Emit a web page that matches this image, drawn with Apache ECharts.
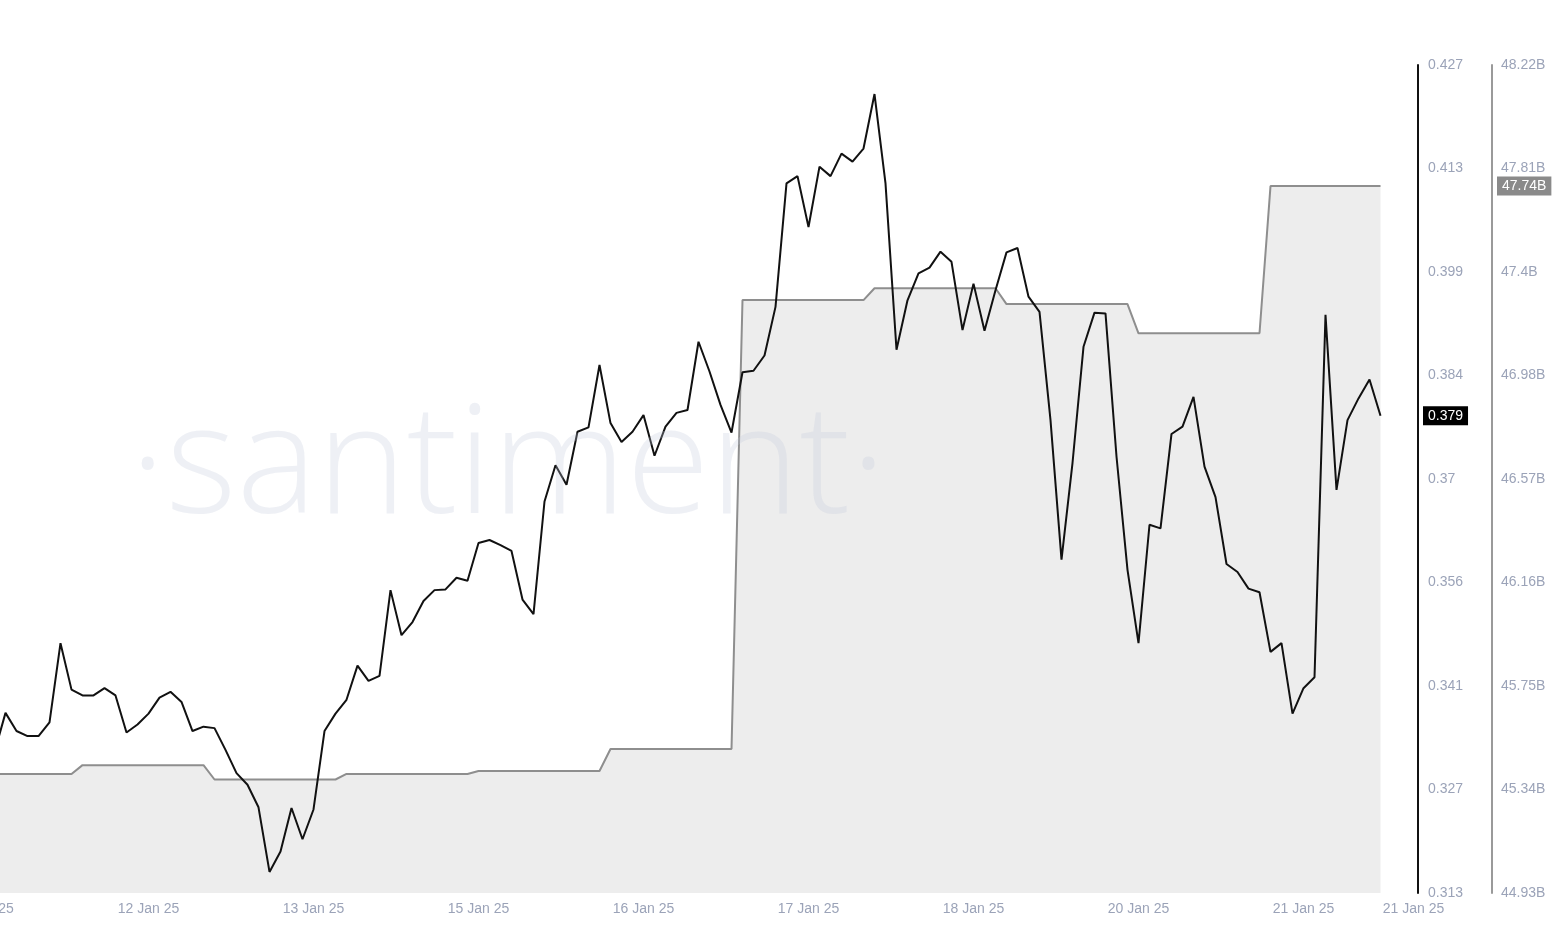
<!DOCTYPE html>
<html>
<head>
<meta charset="utf-8">
<script src="https://cdn.jsdelivr.net/npm/echarts@6/dist/echarts.min.js"></script>
<style>
html,body{margin:0;padding:0;background:#fff;}
#chart{width:1560px;height:926px;}
</style>
</head>
<body>
<div id="chart"></div>
<script>
// X-axis tick labels (category index -> label)
const xTickIndex = [0, 15, 30, 45, 60, 75, 90, 105, 120, 130];
const xTickLabels = ['11 Jan 25', '12 Jan 25', '13 Jan 25', '15 Jan 25', '16 Jan 25', '17 Jan 25', '18 Jan 25', '20 Jan 25', '21 Jan 25', '21 Jan 25'];
const categoryCount = 131;

// Price (left value axis)
const price = [null,
  0.3324, 0.3378, 0.3353, 0.3346, 0.3346, 0.3365, 0.3474, 0.3410, 0.3402, 0.3402, 0.3412,
  0.3402, 0.3351, 0.3362, 0.3377, 0.3399, 0.3407, 0.3393, 0.3353, 0.3359, 0.3357,
  0.3327, 0.3295, 0.3279, 0.3248, 0.3159, 0.3187, 0.3247, 0.3204, 0.3245, 0.3353,
  0.3377, 0.3396, 0.3443, 0.3422, 0.3429, 0.3547, 0.3485, 0.3503, 0.3532, 0.3547,
  0.3548, 0.3564, 0.3560, 0.3612, 0.3616, 0.3609, 0.3601, 0.3534, 0.3514, 0.3669,
  0.3719, 0.3692, 0.3765, 0.3771, 0.3857, 0.3777, 0.3751, 0.3765, 0.3788, 0.3732,
  0.3772, 0.3791, 0.3795, 0.3889, 0.3848, 0.3802, 0.3764, 0.3847, 0.3849, 0.3870,
  0.3937, 0.4107, 0.4117, 0.4047, 0.4130, 0.4117, 0.4148, 0.4137, 0.4155, 0.4230,
  0.4107, 0.3878, 0.3946, 0.3983, 0.3991, 0.4013, 0.3999, 0.3905, 0.3969, 0.3904,
  0.3960, 0.4012, 0.4018, 0.3951, 0.3930, 0.3781, 0.3589, 0.3722, 0.3882, 0.3929,
  0.3928, 0.3731, 0.3575, 0.3474, 0.3637, 0.3632, 0.3762, 0.3772, 0.3813, 0.3717,
  0.3675, 0.3583, 0.3572, 0.3549, 0.3544, 0.3462, 0.3474, 0.3377, 0.3412, 0.3427,
  0.3926, 0.3685, 0.3781, 0.3811, 0.3837, 0.3787
];

// Market cap in billions (right value axis)
const marketCap = [null,
  45.403, 45.403, 45.403, 45.403, 45.403, 45.403, 45.403, 45.403,
  45.438, 45.438, 45.438, 45.438, 45.438, 45.438, 45.438, 45.438, 45.438, 45.438, 45.438, 45.438,
  45.381, 45.381, 45.381, 45.381, 45.381, 45.381, 45.381, 45.381, 45.381, 45.381, 45.381, 45.381,
  45.403, 45.403, 45.403, 45.403, 45.403, 45.403, 45.403, 45.403, 45.403, 45.403, 45.403, 45.403,
  45.415, 45.415, 45.415, 45.415, 45.415, 45.415, 45.415, 45.415, 45.415, 45.415, 45.415, 45.415,
  45.502, 45.502, 45.502, 45.502, 45.502, 45.502, 45.502, 45.502, 45.502, 45.502, 45.502, 45.502,
  47.286, 47.286, 47.286, 47.286, 47.286, 47.286, 47.286, 47.286, 47.286, 47.286, 47.286, 47.286,
  47.333, 47.333, 47.333, 47.333, 47.333, 47.333, 47.333, 47.333, 47.333, 47.333, 47.333, 47.333,
  47.270, 47.270, 47.270, 47.270, 47.270, 47.270, 47.270, 47.270, 47.270, 47.270, 47.270, 47.270,
  47.154, 47.154, 47.154, 47.154, 47.154, 47.154, 47.154, 47.154, 47.154, 47.154, 47.154, 47.154,
  47.739, 47.739, 47.739, 47.739, 47.739, 47.739, 47.739, 47.739, 47.739, 47.739, 47.739
];

// Y-axis tick labels
const priceTickLabels = ['0.313', '0.327', '0.341', '0.356', '0.37', '0.384', '0.399', '0.413', '0.427'];
const capTickLabels = ['44.93B', '45.34B', '45.75B', '46.16B', '46.57B', '46.98B', '47.4B', '47.81B', '48.22B'];
const priceMin = 0.313, priceMax = 0.427;
const capMin = 44.93, capMax = 48.22;

// build helpers
const categories = [];
for (let i = 0; i < categoryCount; i++) {
  const t = xTickIndex.indexOf(i);
  categories.push(t >= 0 ? xTickLabels[t] : '');
}
function tickValues(min, max, n) {
  const out = [];
  for (let i = 0; i < n; i++) out.push(min + (max - min) * i / (n - 1));
  return out;
}
const priceTickVals = tickValues(priceMin, priceMax, priceTickLabels.length);
const capTickVals = tickValues(capMin, capMax, capTickLabels.length);
function labelFor(v, min, max, labels) {
  const idx = Math.round((v - min) / ((max - min) / (labels.length - 1)));
  return labels[idx] !== undefined ? labels[idx] : '';
}
function lastVal(arr) {
  for (let i = arr.length - 1; i >= 0; i--) if (arr[i] != null) return arr[i];
  return null;
}

const labelColor = '#9ba3b8';
const fontFamily = '"Liberation Sans", Arial, Helvetica, sans-serif';

const chart = echarts.init(document.getElementById('chart'), null, {renderer: 'canvas'});
chart.setOption({
  backgroundColor: '#ffffff',
  animation: false,
  grid: {left: -16.5, right: 146.5, top: 65, bottom: 33, containLabel: false, outerBoundsMode: 'none'},
  graphic: [{
    type: 'text',
    x: 508, y: 470,
    z: 100,
    silent: true,
    style: {
      text: '·santiment·',
      fontSize: 152,
      fontFamily: '"Open Sans", "Noto Sans", sans-serif',
      fontWeight: 300,
      fill: 'rgba(195,200,218,0.28)',
      textAlign: 'center',
      textVerticalAlign: 'middle'
    }
  }],
  xAxis: {
    type: 'category',
    data: categories,
    boundaryGap: false,
    axisLine: {show: false},
    axisTick: {show: false},
    splitLine: {show: false},
    axisLabel: {
      interval: 0,
      color: labelColor,
      fontSize: 14,
      fontFamily: fontFamily,
      margin: 9
    }
  },
  yAxis: [{
    type: 'value',
    position: 'right',
    offset: 4.5,
    min: priceMin,
    max: priceMax,
    axisLine: {show: true, lineStyle: {color: '#111111', width: 2}},
    axisTick: {show: false},
    splitLine: {show: false},
    axisLabel: {
      customValues: priceTickVals,
      margin: 10,
      color: labelColor,
      fontSize: 14,
      fontFamily: fontFamily,
      formatter: v => labelFor(v, priceMin, priceMax, priceTickLabels)
    }
  }, {
    type: 'value',
    position: 'right',
    offset: 78.5,
    min: capMin,
    max: capMax,
    axisLine: {show: true, lineStyle: {color: '#9a9a9a', width: 2}},
    axisTick: {show: false},
    splitLine: {show: false},
    axisLabel: {
      customValues: capTickVals,
      margin: 9,
      color: labelColor,
      fontSize: 14,
      fontFamily: fontFamily,
      formatter: v => labelFor(v, capMin, capMax, capTickLabels)
    }
  }],
  series: [{
    name: 'Market cap',
    type: 'line',
    yAxisIndex: 1,
    data: marketCap,
    symbol: 'none',
    z: 2,
    lineStyle: {color: '#8e8e8e', width: 2},
    areaStyle: {color: '#ededed', opacity: 1},
    markLine: {
      silent: true,
      symbol: 'none',
      precision: 4,
      lineStyle: {color: 'rgba(0,0,0,0)', width: 1, type: 'solid'},
      label: {
        show: true,
        position: 'end',
        distance: 83.5,
        formatter: p => Number(p.value).toFixed(2) + 'B',
        color: '#ffffff',
        backgroundColor: '#8a8a8a',
        padding: [3, 5, 2, 5],
        fontSize: 14,
        fontFamily: fontFamily
      },
      data: [{yAxis: lastVal(marketCap)}]
    }
  }, {
    name: 'Price',
    type: 'line',
    yAxisIndex: 0,
    data: price,
    symbol: 'none',
    z: 3,
    lineStyle: {color: '#111111', width: 2},
    markLine: {
      silent: true,
      symbol: 'none',
      precision: 5,
      lineStyle: {color: 'rgba(0,0,0,0)', width: 1, type: 'solid'},
      label: {
        show: true,
        position: 'end',
        distance: 9.5,
        formatter: p => Number(p.value).toFixed(3),
        color: '#ffffff',
        backgroundColor: '#000000',
        padding: [3, 5, 2, 5],
        fontSize: 14,
        fontFamily: fontFamily
      },
      data: [{yAxis: lastVal(price)}]
    }
  }]
});
</script>
</body>
</html>
